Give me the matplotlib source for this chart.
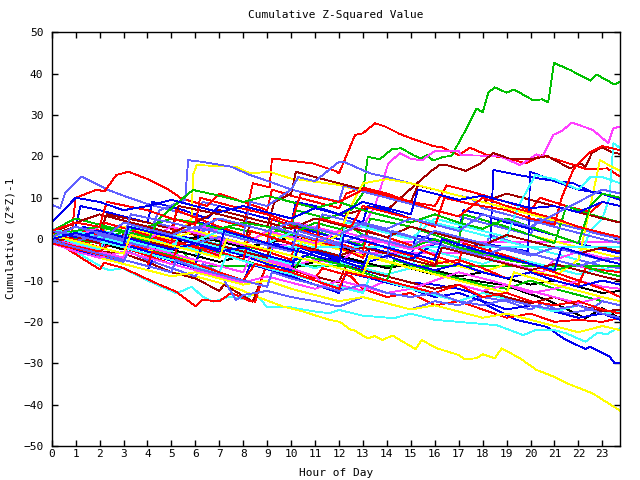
import matplotlib
matplotlib.use("Agg")
import matplotlib.pyplot as plt

# breakpoints (hour, cumulative value), grouped by colour
RED = [
    [(0,0.5),(1.5,-1.5),(1.7,2.5),(4,-1),(4.3,3.5),(6.5,0.5),(6.8,5),(8,3),(8.4,13.5),(9.1,12.5),(9.2,19.5),(9.8,19.1),(10.9,18.3),(11.9,16.4),(12,15.9),(12.67,25.2),(13,25.6),(13.5,28),(13.9,27.3),(14.55,25.4),(15.1,24.2),(15.94,22.5),(16.3,22.2),(17,20.3),(17.47,22.1),(18.2,20.3),(19.1,19.5),(19.8,18.3),(20.5,20.3),(21.5,18.5),(22.35,16.9),(23.2,17.1),(23.75,15.1)],
    [(0,1),(0.8,-0.5),(1,10),(1.9,12),(2.2,11.5),(2.7,15.5),(3.2,16.3),(4.1,14.3),(4.9,11.9),(5.4,9.9),(6.5,8),(7,11),(8,9),(9,7),(9.2,12),(10,10.5),(11,9),(12,7.5),(12.3,11),(13,12.5),(14,11),(15,9),(16,8),(16.5,13),(17.5,11.5),(19,9),(20,7),(20.4,10),(21.5,8),(22.5,6.5),(23,9),(23.75,8)],
    [(0,0),(2,-7.3),(2.2,-5.7),(3,-7),(4.5,-11),(5.2,-12.7),(6,-16.2),(6.3,-14.7),(7,-15),(7.5,-13),(8.3,-15),(8.5,-15.1),(9,-5.5),(10,-7),(11,-9.5),(11.3,-7),(12.5,-9),(13,-12),(14,-14),(15,-13),(16,-16),(17,-15),(18,-17),(19,-19),(20,-18),(21,-20),(22,-19.5),(23,-20),(23.75,-19)],
    [(0,0.5),(1,-1),(1.3,2),(3,-1),(4,-2.5),(4.2,1),(6,-2),(7,-4),(7.3,0),(9,-3),(10,-5),(10.2,1),(12,-2),(13,-4.5),(13.3,-1),(15,-4),(16,-6),(17,-5),(18,-7),(19,-9.5),(20,-8),(21,-9),(22,-11),(22.3,-7),(23.75,-8)],
    [(0,1.5),(2,-2),(2.2,4),(4,1),(5,-1),(5.2,7),(7,3),(8,1),(9,-1),(9.2,5),(11,1),(12,-1),(13,-3),(13.2,2),(15,-1.5),(16,-4),(17,-6),(17.2,-1),(19,-4),(20,-6),(21,-8),(22,-10),(23,-12),(23.75,-14)],
    [(0,-0.5),(2,-3),(2.5,-1),(4,-4),(5,-6),(5.3,-1),(7,-3),(8,-5),(8.3,2),(10,-1),(11,-3),(11.2,5),(12.5,3),(13,8),(14,6.5),(15,5),(16,3),(16.4,10),(17.5,8.5),(19,7),(20,5),(21,3.5),(21.3,10),(21.8,17),(22.5,21.1),(23,22.5),(23.75,21.5)],
    [(0,2),(1,4),(2,3),(2.3,9),(4,7),(5,5),(6,3.5),(6.2,10),(7.5,8),(9,6),(10,4),(10.4,11),(12,9),(13,12),(14,10.5),(15,9),(16,7),(17,5.5),(18,10),(19,8),(20,6.5),(21,5),(22,3),(23,1.5),(23.75,0.5)],
    [(0,-1),(1.5,-3),(3,-5),(4,-6.5),(4.2,-3),(6,-6),(7,-8),(8,-10),(8.5,-6),(10,-8),(11,-10),(12,-12),(12.3,-8),(14,-10),(15,-11.5),(16,-13),(17,-11),(18,-14),(19,-13),(20,-15),(21,-16),(22,-15),(23,-17),(23.75,-18)],
]
GREEN = [
    [(0,0),(1,-1),(1.2,2),(3,0),(4,-2),(4.3,2),(6,0),(7,-1.5),(7.3,3),(9,1),(10,3),(10.2,7),(11.5,5),(12.5,7),(13,11.1),(13.2,19.9),(13.7,19.3),(14.2,21.7),(14.6,22),(15.1,20.3),(15.4,19.5),(15.66,20.3),(15.94,19),(16.36,19.9),(16.7,20.1),(17.33,26.8),(17.75,31.6),(18,30.6),(18.24,35.4),(18.5,36.7),(19,35.4),(19.3,36.2),(20.1,33.6),(20.5,33.8),(20.74,33.1),(20.98,42.6),(21.65,40.9),(22.5,38.3),(22.76,39.8),(23.5,37.4),(23.75,38.1)],
    [(0,0.5),(2,-2),(3,-1),(4.5,-4),(5.5,-3),(5.9,-6.5),(23.75,-6.5)],
    [(0,1),(2,-1),(3,2),(5,-1),(6,-3),(6.3,1),(8,-1.5),(9,-3),(9.5,4),(11,2),(12,0),(13,-1.5),(13.3,5),(15,3),(16,1),(17,-1),(17.2,6),(19,3),(20,1),(21,-1),(21.5,8),(22.5,6),(23.75,4)],
    [(0,-0.5),(1,-2),(2,-3.5),(2.3,1),(4,-2),(5,-4),(6,-6),(6.3,-2),(8,-5),(9,-7),(10,-8.5),(10.5,-4),(12,-6),(13,-8),(14,-10),(14.3,-5),(16,-8),(17,-9.5),(18,-11),(19,-12),(20,-10),(21,-12),(22,-13.5),(23,-15),(23.75,-16)],
    [(0,2),(1,5),(2,3.5),(3,2),(4,3),(5,5),(6,4),(7,2.5),(8,4),(9,3),(10,1),(11,4),(12,2.5),(12.5,3),(13,1),(14,-1),(15,-2),(16,0),(17,-2),(18,-3.5),(19,-5),(20,-6),(21,-7.5),(22,-6),(23,-8),(23.75,-9)],
    [(0,1),(2,3),(3,1.5),(4,-0.5),(4.5,5),(5.9,11.9),(7,10.5),(8,9),(9,10.5),(10,9),(11,7.5),(12,9),(13,7),(14,5.5),(15,4),(16,6),(17,4),(18,2.5),(19,5),(20,3),(21,1),(22,-1),(22.5,8),(23,11),(23.75,10)],
]
BLUE = [
    [(0,0),(1,-1),(1.3,3),(3,0),(4,-2),(5,-3.5),(5.3,1),(7,-2),(8,-4),(9,-5.5),(9.3,-1),(11,-4),(12,-6),(13,-7.5),(14,-9),(15,-10.5),(16,-11),(17,-12),(17.6,-13),(18.2,-16),(19.4,-19.5),(20.67,-21.2),(20.9,-22),(21.37,-24),(22.3,-26.6),(22.5,-26),(23.3,-28.4),(23.5,-29.9),(23.75,-29.9)],
    [(0,1),(1,3),(1.2,8),(2,7),(3,5.5),(4,4),(4.2,9),(5.5,7),(6.5,5),(7,8),(8,6.5),(9,5),(10,3.5),(10.2,9),(11,8),(12,6),(13,4),(13.2,8),(14,7),(15,5),(16,3.5),(17,2),(17.2,7),(18,6),(19,4),(20,2.5),(21,1),(22,-1),(23,-2.5),(23.75,-3.5)],
    [(0,0.5),(2,-2),(3,-3.5),(3.3,1),(5,-1.5),(6,-3),(6.2,4),(8,1),(9,-1),(10,-2.5),(10.2,3),(12,0),(13,-2),(14,-3.5),(15,-5),(15.2,1),(16.5,-1),(17.5,-2.5),(18.3,-4),(18.45,16.7),(19.5,15.5),(20.5,14.5),(21.8,13.5),(22.5,11.5),(23.75,10)],
    [(0,-1),(1,-2.5),(2,-4),(2.2,0),(4,-3),(5,-4.5),(6,-6),(6.3,-1),(8,-4),(9,-6),(10,-7.5),(10.3,-2),(12,-5),(13,-7),(13.3,-2),(15,-5),(16,-1),(17,-2.5),(18,-1),(19,-2),(19.9,-3),(19.98,16.3),(21,14),(22,12),(23,11),(23.75,9.5)],
    [(0,-0.5),(1,-2.5),(2,-4.5),(3,-6),(4,-7.5),(4.3,-4),(6,-7),(7,-9),(8,-10.5),(8.3,-6),(10,-9),(11,-11),(12,-13),(12.3,-8),(14,-10.5),(15,-12),(16,-14),(17,-13),(18,-15),(19,-17),(20,-16),(21,-17.5),(22,-19),(23,-18),(23.75,-19.5)],
    [(0,2),(1,0.5),(2,2),(3,0.5),(4,-1),(5,-2.5),(6,-1),(7,-3),(8,-2),(9,-4),(10,-5.5),(11,-3),(12,-4.5),(13,-6),(14,-4),(15,-6),(16,-7.5),(17,-6),(18,-8),(19,-9.5),(20,-8),(21,-10),(22,-11.5),(23,-10),(23.75,-11)],
    [(0,4),(1,10),(2,9),(3,7),(4,8),(5,9.5),(6,8),(7,6.5),(8,8),(9,6.5),(10,5),(11,7.5),(12,6),(13,9),(14,7.5),(15,6),(15.3,12),(16,11),(17,9.5),(18,10.5),(19,9),(20,7.5),(21,8),(22,6.5),(23,9),(23.75,8)],
    [(0,0),(1,1.5),(2,0),(3,-1.5),(3.2,3),(5,0.5),(6,-1),(7,-2.5),(7.2,2),(9,-1),(10,-2.5),(11,-4),(12,-5.5),(12.2,1),(14,-2),(15,-3.5),(16,-5),(16.3,0),(18,-3),(19,-4.5),(20,-6),(21,-7.5),(21.3,-2),(23,-5),(23.75,-6)],
]
SLATE = [
    [(0,8.3),(0.35,7.5),(0.56,11.1),(1.25,15.1),(1.67,13.9),(2.36,11.9),(3,10.5),(4,8.5),(5,7),(6,5.5),(6.3,9),(7,8),(8,6.5),(9,5),(10,3.5),(11,2),(11.3,6),(12,5),(13,3.5),(14,2),(15,0.5),(16,-1),(17,-2.5),(18,-4),(18.3,1),(20,-2),(21,-3.5),(22,-5),(23,-6.5),(23.75,-7)],
    [(0,0.5),(1,-1),(2,-2.5),(2.2,3),(4,0.5),(4.5,7),(5.57,9.5),(5.7,19.1),(6.27,18.7),(7.5,17.5),(8.28,15.5),(9.1,13.9),(10,12),(11,10.5),(12,9),(12.2,13),(13,11.5),(14,10),(15,8.5),(16,7),(17,5.5),(18,4),(19,2.5),(20,1),(20.3,5),(21,4),(22,2.5),(23,1),(23.75,0)],
    [(0,-1),(1,-2.5),(1.3,2),(3,0),(4,-1.5),(4.3,4),(6,1.5),(7,3),(8,1),(8.3,9),(9,8),(10,12),(10.3,15),(11,14),(12,18.7),(12.2,18.7),(13.3,15.9),(14,15),(15,13.5),(16,12),(17,10.5),(17.5,10),(18,7.5),(19,6),(20,4.5),(21,3),(22,1.5),(23,0),(23.75,-1)],
    [(0,0),(1,-2),(2,-4),(3,-5.5),(3.2,-3),(4,-5),(5,-7),(6,-9),(6.3,-6),(7,-8),(7.7,-14.7),(8,-13.5),(9,-12.5),(10,-14),(11,-15),(12,-16.3),(13,-14),(14,-15.5),(15,-17),(16,-15),(17,-16),(18,-14),(19,-15),(20,-17),(20.5,-15.5),(21.5,-18),(22.5,-17),(23,-15),(23.75,-16)],
    [(0,1),(1,-0.5),(2,1),(3,-0.5),(4,-2),(4.2,2),(6,-1),(7,0.5),(8,-1),(9,-2.5),(9.2,3),(11,0),(12,-1.5),(13,-3),(14,-4.5),(14.2,2),(16,-1),(17,-2.5),(18,-4),(19,-2),(20,-3.5),(21,-5),(22,-6.5),(23,-5),(23.75,-6)],
    [(0,2),(1,1),(2,-0.5),(3,4),(4,2.5),(5,1),(6,3),(7,1.5),(8,0),(9,-1.5),(10,-3),(10.3,2),(12,-1),(13,1),(14,-0.5),(15,-2),(16,2),(17,0.5),(18,-1),(19,-2.5),(20,-4),(21,-2),(22,-3.5),(23,-5),(23.75,-4.5)],
    [(0,0.5),(1,3),(2,1.5),(3,0),(3.3,6),(5,4),(6,2.5),(7,5),(8,3.5),(9,2),(10,4),(11,2.5),(12,1),(13,4),(14,2.5),(15,5),(16,3.5),(17,2),(18,6),(19,4.5),(20,3),(21,6),(22,9),(23,12),(23.75,11)],
    [(0,-0.5),(1,-2),(2,-3.5),(3,-5),(4,-6.5),(5,-8),(5.2,-5),(6,-7),(7,-8.5),(8,-10),(9,-11.5),(9.2,-8),(10,-9.5),(11,-11),(12,-12.5),(13,-11),(14,-13),(15,-14),(16,-13),(17,-15),(18,-16),(19,-14.5),(20,-16),(21,-17),(22,-16),(23,-18),(23.75,-19)],
]
MAGENTA = [
    [(0,1),(2,-1),(3,-2.5),(3.2,2),(5,-0.5),(6,-2),(6.3,3),(8,0.5),(9,-1),(10,-2.5),(10.2,4),(12,1.5),(13,3),(13.5,8),(14.06,18.3),(14.55,20.8),(14.96,19.5),(15.45,19),(16,21.3),(17,21.3),(17.1,20.3),(18.7,20.1),(19.56,17.9),(20.26,20.5),(20.5,19.9),(20.95,25.2),(21.37,26.4),(21.72,28.2),(22.6,26.4),(23.25,23.2),(23.46,26.8),(23.75,27.2)],
    [(0,0.5),(1,-1),(2,1),(3,-0.5),(4,-2),(5,-0.5),(6,-2),(7,-3.5),(7.2,0),(9,-2.5),(10,-1),(11,-2.5),(11.6,-0.6),(23.75,-0.6)],
    [(0,-0.5),(1,-2),(2,-3.5),(2.3,0),(4,-2.5),(5,-4),(6,-5.5),(6.3,-1),(8,-3.5),(9,-5),(10,-6.5),(11,-5),(12,-6),(12.5,-3.3),(17.9,-3.3),(18.5,-5),(19.5,-6.5),(20.5,-8),(21,-5),(22,-6.5),(23,-8),(23.75,-9)],
    [(0,0),(1,-1.5),(2,-3),(3,-4.5),(3.3,-1),(5,-3.5),(6,-5),(7,-6.5),(8,-8),(8.3,-4),(10,-7),(11,-9),(11.6,-12.2),(12,-11),(13,-12.5),(14,-10),(15,-11.5),(16,-13),(17,-11),(18,-12.5),(19,-11),(20,-13),(21,-12),(22,-10),(23,-11.5),(23.75,-12)],
    [(0,2),(1,0.5),(2,3),(3,1.5),(4,0),(5,3),(6,1.5),(7,0),(8,-1.5),(9,2),(10,0.5),(11,-1),(12,2),(13,0.5),(14,-1),(15,-2.5),(16,-1),(17,-2.5),(18,-4),(19,-2),(20,-3.5),(21,-5),(22,-3),(23,-4.5),(23.75,-5)],
    [(0,-1),(1,-3),(2,-4.5),(3,-3),(4,-4.5),(5,-6),(6,-7.5),(7,-9),(8,-10.5),(9,-9),(10,-10.5),(11,-12),(12,-10),(13,-11.5),(14,-13),(15,-12),(16,-10),(17,-8),(18,-9.5),(19,-11),(20,-12.5),(21,-14),(22,-15.5),(23,-14),(23.75,-15)],
]
CYAN = [
    [(0,0),(1,-3),(2.16,-7),(2.43,-7.5),(2.98,-7),(3.97,-9.9),(4.73,-11.9),(5.22,-13.1),(5.85,-11.5),(6.3,-13.9),(6.75,-15.1),(7.45,-13.9),(8,-14.5),(8.5,-13.1),(8.98,-16.3),(10,-16.5),(11,-17.5),(11.6,-17.9),(12,-17.1),(13,-18.5),(14.3,-19.1),(15,-18),(16,-19.5),(17,-20),(18.6,-20.8),(19.7,-23.2),(20.2,-22),(21,-22),(21.5,-22.8),(22.3,-24.8),(22.8,-22.6),(23.2,-23),(23.5,-21.9),(23.75,-21.5)],
    [(0,1),(1,-0.5),(2,-2),(2.2,2),(4,-1),(5,-2.5),(6,-4),(6.2,0),(8,-3),(9,-4.5),(10,-6),(10.3,-1),(12,-4),(13,-5.5),(14,-3),(15,-4.5),(15.5,5),(16,4),(17,2.5),(18,1),(19,-0.5),(20,-2),(21,-3.5),(22,-5),(22.5,2),(23,5),(23.3,10),(23.46,23.2),(23.75,22)],
    [(0,-0.5),(1,1),(2,-0.5),(3,-2),(4,-3.5),(4.3,0),(6,-2.5),(7,-4),(8,-2.5),(9,-4),(10,-5.5),(11,-7),(12,-5.5),(13,-7),(14,-8.5),(15,-7),(15.5,-2),(16,-3),(17,-4.5),(18,-6),(19,-4),(20,-5.5),(21,-7),(22,-8.5),(23,-7),(23.75,-8)],
    [(0,1),(1,-1),(2,-2.5),(2.3,1),(4,-1.5),(5,-3),(5.3,0.5),(7,-2),(8,-3.5),(9,-5),(9.2,-1.8),(23.75,-1.8)],
    [(0,0.5),(1,2),(2,0.5),(3,-1),(3.3,3),(5,1),(6,-0.5),(7,2),(8,0.5),(9,-1),(10,1.5),(11,0),(12,-1.5),(12.3,4),(14,1.5),(15,0),(16,5),(17,3.5),(18,2),(19,0.5),(19.5,8),(20.2,15.5),(21,14.5),(22,12),(22.5,15),(23,15),(23.75,13.5)],
    [(0,2.5),(1,1),(2,-0.5),(3,-2),(4,-3.5),(5,-5),(6,-6.5),(7,-8),(7.3,-4),(9,-7),(10,-8.5),(11,-10),(12,-11.5),(13,-13),(13.3,-9),(15,-12),(16,-13.5),(17,-15),(18,-13),(19,-14.5),(20,-16),(21,-17.5),(22,-16),(23,-18),(23.75,-17.5)],
]
DARKRED = [
    [(0,0),(1,-1.5),(2,-3),(2.3,1),(4,-1.5),(5,-3),(5.3,2),(7,-0.5),(8,-2),(8.3,4),(10,1.5),(11,0),(12,-1.5),(12.3,6),(13.5,8),(14,7),(15.1,12.7),(15.9,16.7),(16.2,17.9),(16.5,17.9),(17.3,16.5),(17.9,18.3),(18.45,20.8),(19.1,19.5),(20,19.3),(20.7,20.1),(21.65,17.1),(22.1,18.3),(22.3,17.5),(22.56,20.8),(22.97,22.2),(23.46,20.9),(23.75,20.6)],
    [(0,0),(1,-1.5),(2,-3),(3,-3.5),(4,-5.5),(5,-8),(6,-9.5),(6.5,-11),(7,-12.5),(7.2,-11),(8.4,-15.1),(8.84,-8.3),(9,-6),(10,-7.5),(11,-9),(12,-10.5),(12.3,-6),(14,-9),(15,-10.5),(16,-12),(17,-11),(18,-12.5),(19,-14),(20,-15.5),(21,-14),(22,-16),(23,-17.5),(23.75,-17)],
    [(0,1),(1,3),(2,1.5),(2.3,6),(4,4),(5,2.5),(5.3,8),(7,6),(8,4.5),(9,3),(9.3,9),(10,11),(10.2,16.3),(11,15),(12,13.5),(13,12),(14,10.5),(15,9),(15.3,13),(16,12),(17,10.5),(18,9),(19,11),(20,9.5),(21,8),(22,6.5),(23,5),(23.75,4)],
    [(0,-0.5),(1,0.5),(2,-1),(3,1),(4,-0.5),(5,-2),(6,0),(7,-1.5),(8,-3),(9,-4.5),(9.2,0),(11,-2.5),(12,-4),(13,-2),(14,-3.5),(15,-5),(16,-6.5),(16.3,-2),(18,-4.5),(19,-6),(20,-7.5),(21,-6),(22,-7.5),(23,-9),(23.75,-10)],
    [(0,1.5),(1,4),(2,6),(3,4.5),(4,3),(5,1.5),(6,4),(7,7),(8,5.5),(9,4),(10,2.5),(11,5),(12,3.5),(13,2),(14,0.5),(15,3),(16,1.5),(17,0),(18,-1.5),(19,1),(20,-0.5),(21,-2),(22,-3.5),(23,-2),(23.75,-3)],
]
YELLOW = [
    [(0,0.5),(1,-1.5),(2,-3),(3,-5),(4,-6.5),(5,-8),(6,-9),(7,-10.5),(8,-12.5),(8.56,-13.9),(9.67,-16.3),(10.5,-17.5),(11.6,-19.5),(12.04,-20),(12.5,-22),(12.6,-21.9),(13.2,-24),(13.5,-23.4),(13.8,-24.4),(14.24,-23.3),(15.2,-26.6),(15.45,-24.4),(16.1,-26.4),(17,-28),(17.26,-29),(17.75,-28.8),(18,-27.8),(18.5,-28.8),(18.8,-26.4),(19.56,-28.8),(20.25,-31.6),(20.95,-33.2),(21.5,-34.8),(21.9,-35.7),(22.6,-37.3),(23.75,-41.5)],
    [(0,1),(1,-0.5),(2,-2),(2.3,3),(4,0.5),(5,-1),(5.85,5),(5.9,15.5),(6.06,17.9),(7.7,17.5),(8.28,15.9),(9.1,16.3),(9.95,14.7),(12,13.1),(13,11.5),(14,10),(15,8.5),(16,7),(17,5.5),(18,4),(19,2.5),(20,1),(21,-0.5),(22,-2),(23,-3.5),(23.75,-4.5)],
    [(0,-0.5),(1,-2),(2,-3.5),(2.2,0),(4,-2.5),(5,-4),(6,-5.5),(6.3,-1),(8,-4),(9,-5.5),(10,-7),(10.5,0),(12,-2.5),(13,-4),(14,-5.5),(15,-7),(16,-5),(17,-6.5),(18,-8),(19,-6),(20,-7.5),(21,-9),(22,-5),(22.5,8),(22.9,19.1),(23.4,17.5),(23.75,16.5)],
    [(0,0),(1,2),(2,0.5),(3,3),(4,1.5),(5,0),(6,2),(7,0.5),(8,-1),(9,1.5),(10,0),(11,-1.5),(12,1),(12.5,8),(13,13.5),(14,14.5),(15,13.5),(16,12),(17,10.5),(18,9),(19,7.5),(20,6),(21,4.5),(22,3),(23,1.5),(23.75,0.5)],
    [(0,-1),(1,-3),(2,-4.5),(3,-6),(4,-7.5),(5,-9),(6,-8),(7,-9.5),(8,-11),(9,-10),(10,-12),(11,-13.5),(12,-15),(13,-14),(14,-15.5),(15,-17),(16,-16),(17,-17.5),(18,-19),(19,-18),(20,-19.5),(21,-21),(22,-22.5),(23,-21),(23.75,-22)],
    [(0,1),(1,-0.5),(2,-2),(3,-3.5),(3.3,1),(5,-1.5),(6,-3),(7,-4.5),(7.3,0),(9,-2.5),(10,-4),(11,-5.5),(12,-7),(13,-8.5),(13.3,-4),(15,-7),(16,-8.5),(17,-10),(18,-11.5),(19,-13),(19.3,-8),(21,-11),(22,-12.5),(23,-14),(23.75,-15)],
]
BLACK = [
    [(0,0.5),(1,2),(2,3),(3,1.5),(4,0),(5,-1),(6,0.5),(7,-0.5),(8,-2),(9,-1),(10,0.5),(11,-0.5),(11.6,-1),(13.16,-4.2),(14,-5.5),(15.8,-8.3),(17,-9.5),(18.9,-11.1),(20.7,-14.7),(22.3,-19.1),(23,-16.7),(23.6,-18.7),(23.75,-19)],
    [(0,-1),(1,0.5),(2,-1),(3,-2.5),(4,-1),(5,-2.5),(6,-4),(7,-5.5),(8,-4),(9,-5.5),(10,-7),(11,-5.5),(12,-4),(13,-5.5),(14,-7),(15,-6),(16,-7.5),(17,-9),(18,-8),(19,-9.5),(20,-11),(21,-10),(22,-11.5),(23,-13),(23.75,-12.5)],
]

HOUR_TICKS = list(range(24))
VALUE_TICKS = list(range(-50, 51, 10))

groups = [(RED, "#ff0000"), (GREEN, "#00c000"), (BLUE, "#0000f0"),
          (MAGENTA, "#ff40ff"), (CYAN, "#40ffff"), (DARKRED, "#a00000"),
          (YELLOW, "#ffff00"), (SLATE, "#6060ff"), (BLACK, "#000000")]

plt.rcParams["font.family"] = ["DejaVu Sans Mono"]
fig = plt.figure(figsize=(6.4, 4.8), dpi=100)
ax = fig.add_axes([51.7 / 640, 1 - 446 / 480, (620.3 - 51.7) / 640, (446 - 32.3) / 480])

# interleave colours like gnuplot's line cycle
n = max(len(g) for g, _ in groups)
for i in range(n):
    for series, col in groups:
        if i < len(series):
            xs = [p[0] for p in series[i]]
            ys = [p[1] for p in series[i]]
            ax.plot(xs, ys, color=col, lw=0.6, antialiased=False)

ax.set_xlim(0, 23.75)
ax.set_ylim(-50, 50)
ax.set_xticks(HOUR_TICKS)
ax.set_yticks(VALUE_TICKS)
ax.tick_params(direction="in", top=True, right=True, length=4.5, width=1,
               labelsize=8, colors="black")
ax.tick_params(axis="x", pad=2)
ax.tick_params(axis="y", pad=6)
for s in ax.spines.values():
    s.set_linewidth(1)

fig.text(336 / 640, 1 - 15 / 480, "Cumulative Z-Squared Value", ha="center", va="center", fontsize=8)
fig.text(336 / 640, 1 - 473 / 480, "Hour of Day", ha="center", va="center", fontsize=8)
fig.text(11 / 640, 1 - 238 / 480, "Cumulative (Z*Z)-1", ha="center", va="center",
         rotation=90, fontsize=8)

fig.savefig("out.png", dpi=100)
